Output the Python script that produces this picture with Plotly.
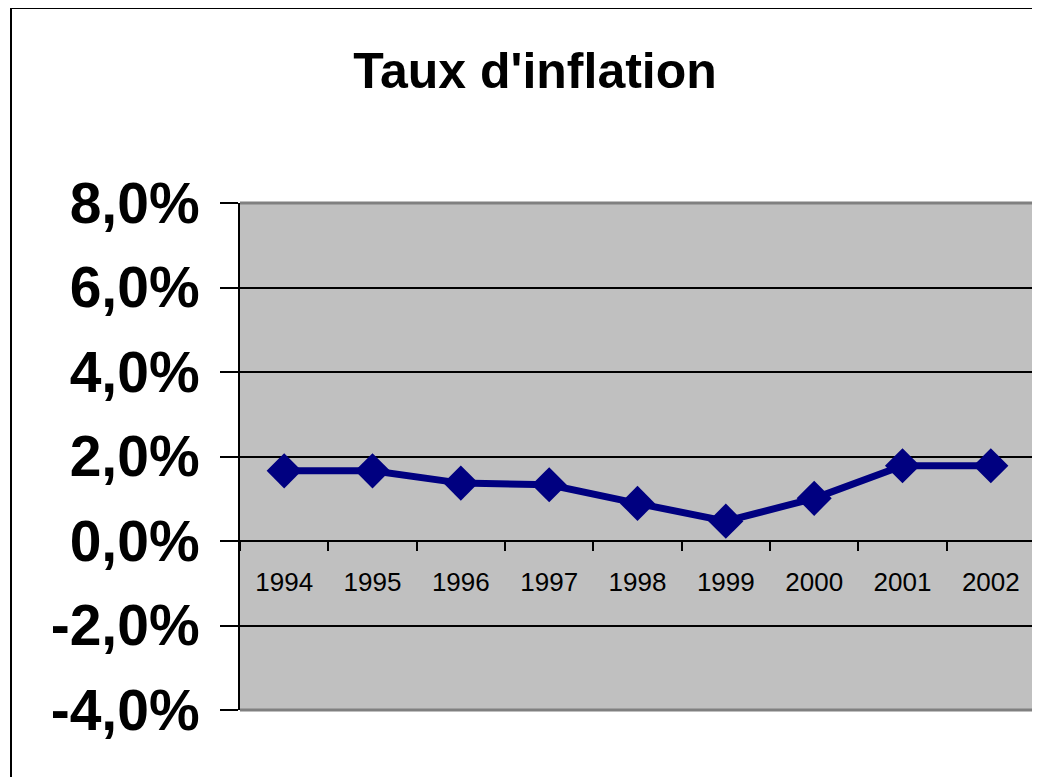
import plotly.graph_objects as go

years = ["1994", "1995", "1996", "1997", "1998", "1999", "2000", "2001", "2002"]
inflation = [0.0166, 0.0166, 0.0137, 0.0133, 0.0089, 0.0047, 0.0101, 0.0178, 0.0178]
y_tick_vals = [-0.04, -0.02, 0.0, 0.02, 0.04, 0.06, 0.08]
y_tick_text = ["-4,0%", "-2,0%", "0,0%", "2,0%", "4,0%", "6,0%", "8,0%"]
title_text = "Taux d'inflation"

OFF = 8  # page body margin
W, H = 1040 - OFF, 777 - OFF
L, R, T, B = 240 - OFF, 1035 - OFF, 203 - OFF, 710 - OFF

def px_x(p):
    return (p - OFF - L) / (R - L)

def px_y(p):
    return (B - (p - OFF)) / (B - T)

font_family = "Arial, 'Liberation Sans', sans-serif"

fig = go.Figure()
fig.add_trace(go.Scatter(
    x=years, y=inflation, mode="lines+markers",
    line=dict(color="#000080", width=7),
    marker=dict(symbol="diamond", size=27, color="#000080"),
    showlegend=False, cliponaxis=False,
))

fig.update_layout(
    width=W, height=H,
    margin=dict(l=L, r=W - R, t=T, b=H - B, pad=0),
    paper_bgcolor="white",
    plot_bgcolor="#C0C0C0",
    font=dict(family=font_family, color="black"),
    title=dict(text="<b>" + title_text + "</b>", x=(535 - OFF) / W, xref="container",
               xanchor="center", y=1 - (70 - OFF) / H, yref="container", yanchor="middle",
               font=dict(size=50, family=font_family, color="black")),
    xaxis=dict(
        type="category", range=[-0.5, 8.5],
        anchor="free", position=px_y(541),
        showline=True, linecolor="black", linewidth=2,
        ticks="outside", tickson="boundaries", ticklen=9, tickwidth=2, tickcolor="black",
        showgrid=False, zeroline=False,
        tickfont=dict(size=26, family=font_family, color="black"),
        ticklabelstandoff=18,
    ),
    yaxis=dict(
        range=[-0.04, 0.08],
        tickvals=y_tick_vals, ticktext=["<b>" + t + "</b>" for t in y_tick_text],
        showline=True, linecolor="black", linewidth=2,
        ticks="outside", ticklen=18, tickwidth=2, tickcolor="black",
        showgrid=True, gridcolor="black", gridwidth=2,
        zeroline=False,
        tickfont=dict(size=57, family=font_family, color="black"),
        ticklabelstandoff=9,
    ),
)

shapes = [
    # outer chart border
    dict(type="rect", xref="paper", yref="paper",
         x0=px_x(11), x1=px_x(1060), y0=px_y(800), y1=px_y(8),
         line=dict(color="black", width=2), fillcolor="rgba(0,0,0,0)", layer="above"),
    # plot area gray border (top, right, bottom)
    dict(type="line", xref="paper", yref="paper", x0=0, x1=1, y0=1, y1=1,
         line=dict(color="#808080", width=3), layer="above"),
    dict(type="line", xref="paper", yref="paper", x0=1, x1=1, y0=0, y1=1,
         line=dict(color="#808080", width=3), layer="above"),
    dict(type="line", xref="paper", yref="paper", x0=0, x1=1, y0=0, y1=0,
         line=dict(color="#808080", width=3), layer="above"),
]
fig.update_layout(shapes=shapes)

fig.write_html("out.html")
